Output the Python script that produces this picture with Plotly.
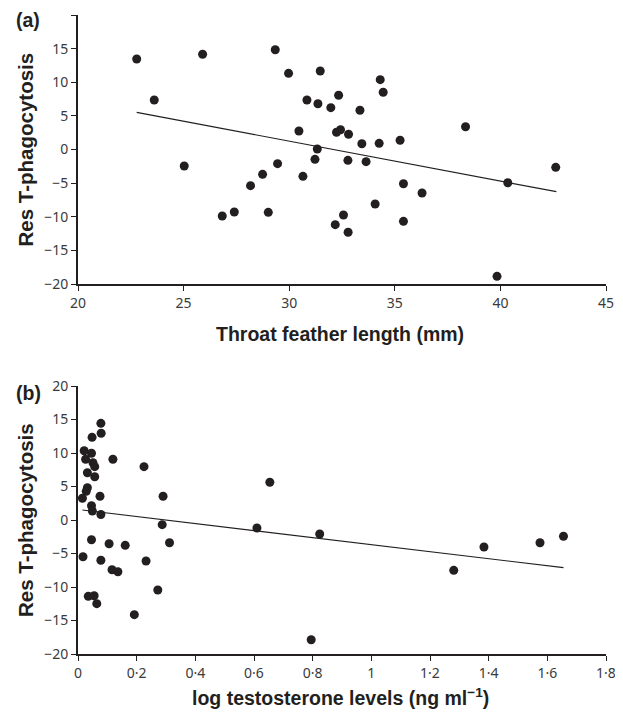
import plotly.graph_objects as go

# ---------------- Panel (a): throat feather length ----------------
a_feather = [22.78, 23.61, 25.90, 29.34, 29.97, 25.03, 28.17, 28.74, 29.45, 26.83,
             27.40, 29.01, 30.84, 30.46, 30.65, 31.22, 31.33, 31.47, 31.36, 31.97,
             32.34, 33.35, 34.31, 34.45, 38.35, 42.62, 40.35, 32.24, 32.43, 32.81,
             33.44, 34.26, 35.25, 32.78, 33.64, 35.41, 36.29, 34.07, 32.57, 32.18,
             32.79, 35.41, 39.84]
a_phago = [13.46, 7.36, 14.16, 14.84, 11.33, -2.45, -5.38, -3.69, -2.11, -9.89,
           -9.29, -9.34, 7.36, 2.75, -3.99, -1.46, 0.07, 11.67, 6.81, 6.22,
           8.06, 5.83, 10.38, 8.51, 3.39, -2.65, -4.94, 2.56, 2.94, 2.26,
           0.86, 0.92, 1.37, -1.61, -1.81, -5.09, -6.47, -8.10, -9.74, -11.18,
           -12.31, -10.68, -18.86]
a_fit_x = [22.78, 42.65]
a_fit_y = [5.53, -6.27]
a_xticks = [20, 25, 30, 35, 40, 45]
a_xticktext = ["20", "25", "30", "35", "40", "45"]

# ---------------- Panel (b): log testosterone ----------------
b_testo = [0.078, 0.079, 0.048, 0.021, 0.046, 0.119, 0.026, 0.051, 0.057, 0.032,
           0.057, 0.032, 0.028, 0.015, 0.075, 0.046, 0.049, 0.078, 0.046, 0.106,
           0.161, 0.017, 0.078, 0.116, 0.136, 0.232, 0.035, 0.055, 0.064, 0.192,
           0.225, 0.290, 0.287, 0.312, 0.272, 0.654, 0.610, 0.824, 0.795, 1.281,
           1.384, 1.575, 1.655]
b_phago = [14.43, 12.94, 12.34, 10.34, 9.96, 9.06, 9.06, 8.55, 7.96, 7.06,
           6.46, 4.82, 4.28, 3.24, 3.54, 2.13, 1.34, 0.82, -2.94, -3.54,
           -3.78, -5.48, -6.01, -7.42, -7.72, -6.12, -11.39, -11.30, -12.49, -14.13,
           7.96, 3.54, -0.70, -3.39, -10.45, 5.63, -1.19, -2.09, -17.87, -7.51,
           -4.03, -3.39, -2.43]
b_fit_x = [0.015, 1.655]
b_fit_y = [1.49, -7.11]
b_xticks = [0, 0.2, 0.4, 0.6, 0.8, 1.0, 1.2, 1.4, 1.6, 1.8]
b_xticktext = ["0", "0·2", "0·4", "0·6", "0·8", "1", "1·2", "1·4", "1·6", "1·8"]

y_ticks = [-20, -15, -10, -5, 0, 5, 10, 15, 20]
y_ticktext = ["−20", "−15", "−10", "−5", "0", "5", "10", "15", "20"]

INK = "#231f20"
TICKFONT = dict(family="Noto Sans, Open Sans, sans-serif", size=14, color="#3a3a3a")
TITLEFONT = dict(family="Liberation Sans, Arial, sans-serif", size=19.5, color=INK)
YTITLEFONT = dict(family="Liberation Sans, Arial, sans-serif", size=20.5, color=INK)

fig = go.Figure()
fig.add_trace(go.Scatter(x=a_feather, y=a_phago, mode="markers", xaxis="x", yaxis="y",
                         marker=dict(size=9, color=INK), cliponaxis=False, showlegend=False))
fig.add_trace(go.Scatter(x=a_fit_x, y=a_fit_y, mode="lines", xaxis="x", yaxis="y",
                         line=dict(color=INK, width=1.2), showlegend=False))
fig.add_trace(go.Scatter(x=b_testo, y=b_phago, mode="markers", xaxis="x2", yaxis="y2",
                         marker=dict(size=9, color=INK), cliponaxis=False, showlegend=False))
fig.add_trace(go.Scatter(x=b_fit_x, y=b_fit_y, mode="lines", xaxis="x2", yaxis="y2",
                         line=dict(color=INK, width=1.2), showlegend=False))

# The page body has an 8px default margin, so the figure is drawn 8px in from the
# window's top-left corner; page pixel positions are converted accordingly.
OFF = 8
W, H = 623 - OFF, 715 - OFF
L, T = 78 - OFF, 15 - OFF
R = W - (606 - OFF)
B = H - (654 - OFF)
ph = H - T - B
pw = W - L - R


def py(p):
    return (H - B - (p - OFF)) / ph


def px(p):
    return (p - OFF - L) / pw


axis_common = dict(showline=True, linewidth=2, linecolor=INK, ticks="outside", ticklen=5,
                   tickwidth=1, tickcolor=INK, showgrid=False, zeroline=False,
                   tickfont=TICKFONT, mirror=False, automargin=False)

fig.update_layout(
    width=W, height=H, margin=dict(l=L, r=R, t=T, b=B, autoexpand=False),
    paper_bgcolor="white", plot_bgcolor="white",
    xaxis=dict(axis_common, range=[20, 45], tickvals=a_xticks, ticktext=a_xticktext,
               anchor="y", domain=[0, 1]),
    yaxis=dict(axis_common, range=[-20, 20], tickvals=y_ticks, ticktext=y_ticktext,
               anchor="x", domain=[py(284), 1]),
    xaxis2=dict(axis_common, range=[0, 1.8], tickvals=b_xticks, ticktext=b_xticktext,
                anchor="y2", domain=[0, 1]),
    yaxis2=dict(axis_common, range=[-20, 20], tickvals=y_ticks, ticktext=y_ticktext,
                anchor="x2", domain=[0, py(386)]),
    annotations=[
        dict(text="<b>(a)</b>", xref="paper", yref="paper", x=px(28), y=py(20),
             xanchor="center", yanchor="middle", showarrow=False, font=TITLEFONT),
        dict(text="<b>(b)</b>", xref="paper", yref="paper", x=px(28), y=py(393),
             xanchor="center", yanchor="middle", showarrow=False, font=TITLEFONT),
        dict(text="<b>Res T-phagocytosis</b>", xref="paper", yref="paper", x=px(25), y=py(149.5),
             xanchor="center", yanchor="middle", textangle=-90, showarrow=False, font=YTITLEFONT),
        dict(text="<b>Res T-phagocytosis</b>", xref="paper", yref="paper", x=px(25), y=py(520),
             xanchor="center", yanchor="middle", textangle=-90, showarrow=False, font=YTITLEFONT),
        dict(text="<b>Throat feather length (mm)</b>", xref="paper", yref="paper", x=px(340),
             y=py(334), xanchor="center", yanchor="middle", showarrow=False, font=TITLEFONT),
        dict(text="<b>log testosterone levels (ng ml<sup>−1</sup>)</b>", xref="paper", yref="paper",
             x=px(340), y=py(697), xanchor="center", yanchor="middle", showarrow=False,
             font=TITLEFONT),
    ],
)

fig.write_html("out.html")
